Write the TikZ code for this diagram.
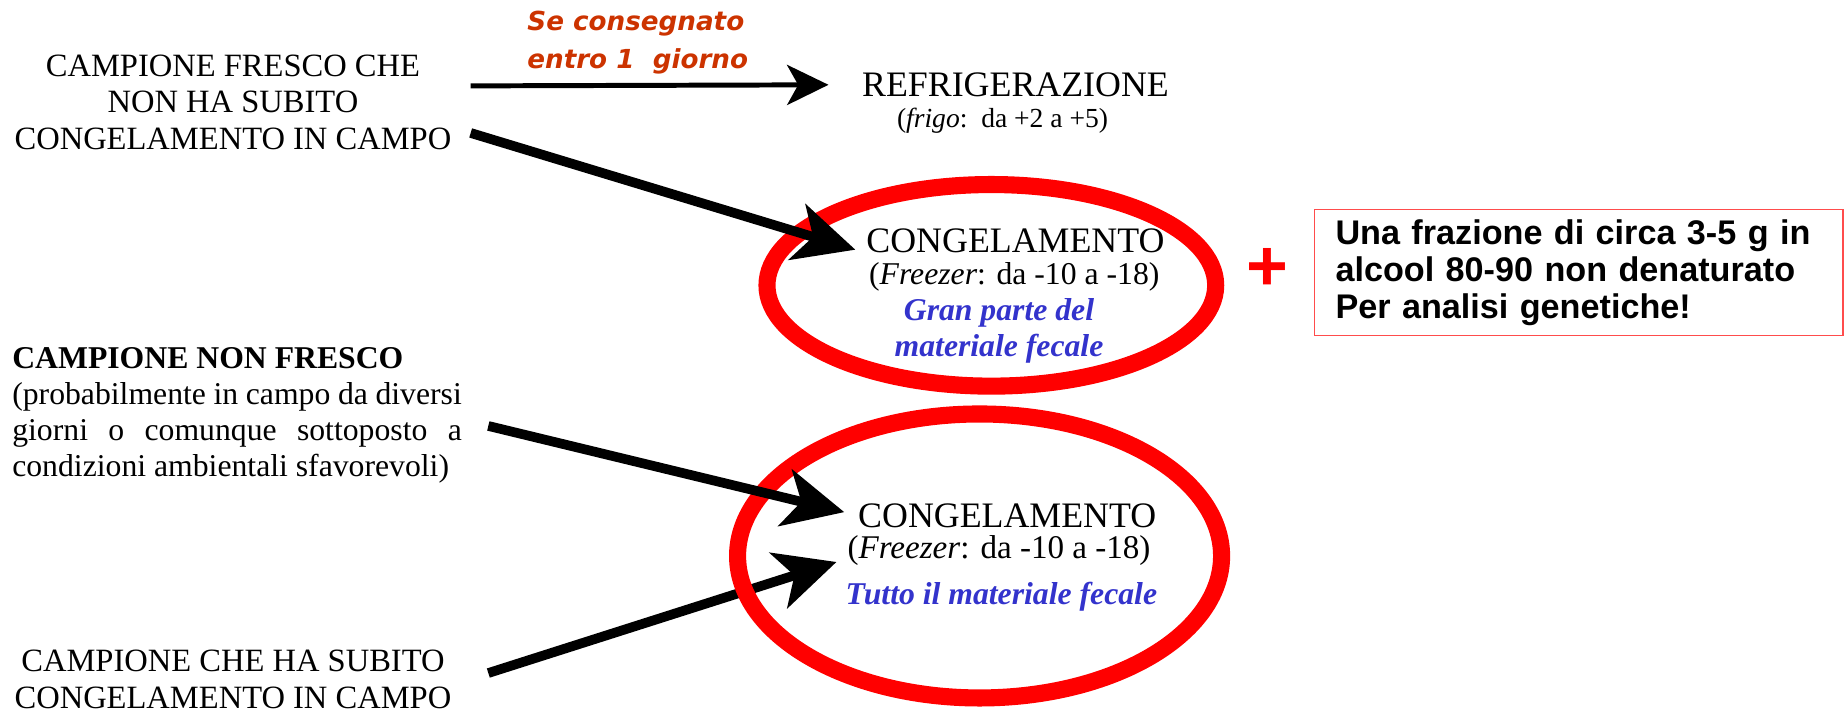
\documentclass[tikz,border=0pt]{standalone}
\usepackage{fontspec}
\setmainfont{Liberation Serif}
\setsansfont{Liberation Sans}
\newfontfamily\tagfont{DejaVu Sans}
\usetikzlibrary{positioning,arrows.meta,shapes.geometric,calc}
\definecolor{RingRed}{HTML}{FF0000}
\definecolor{NoteBlue}{HTML}{3333CC}
\definecolor{TagOrange}{HTML}{CC3300}

\begin{document}
\begin{tikzpicture}[x=0.015cm, y=-0.015cm,
    lbl/.style={inner sep=0pt, align=center},
    capsblock/.style={lbl, font=\fontsize{11.8}{13.4}\selectfont},
    headtxt/.style={lbl, font=\fontsize{13}{15}\selectfont},
    temptxt/.style={lbl, font=\fontsize{11.5}{13}\selectfont},
    bluenote/.style={lbl, text=NoteBlue, font=\bfseries\itshape\fontsize{11.5}{13.2}\selectfont},
    ring/.style={ellipse, draw=RingRed, line width=6.2pt, inner sep=0pt},
    thickarr/.style={-{Stealth[length=22pt,width=21pt,inset=6pt]}, line width=3.5pt},
    thinarr/.style={-{Stealth[length=15pt,width=14.5pt,inset=4pt]}, line width=1.8pt},
    notebox/.style={draw=RingRed!70, line width=0.6pt, align=left,
      minimum width=6.735cm, minimum height=1.605cm, text width=6.195cm,
      inner xsep=0.27cm, inner ysep=0pt,
      font=\sffamily\bfseries\fontsize{12.4}{13.4}\selectfont}
  ]
  \useasboundingbox (0,0) rectangle (1568,607);

  % left column
  \node[capsblock] (fresh) at (198,87) {CAMPIONE FRESCO CHE\\NON HA SUBITO\\CONGELAMENTO IN CAMPO};
  \node[lbl, align=justify, text width=5.73cm, anchor=west,
    font=\fontsize{11.5}{13.1}\selectfont] (stale) at (10,353)
    {\textbf{CAMPIONE NON FRESCO}\\(probabilmente in campo da diversi\linebreak
     giorni o comunque sottoposto a\linebreak condizioni ambientali sfavorevoli)};
  \node[capsblock] (frozen) at (198,577) {CAMPIONE CHE HA SUBITO\\CONGELAMENTO IN CAMPO};

  % middle column
  \node[lbl, align=left, text=TagOrange,
    font=\tagfont\bfseries\itshape\fontsize{9.5}{13.7}\selectfont] (tag) at (542,36)
    {Se consegnato\\entro 1\ \ giorno};
  \node[headtxt] (refrig) at (863,72) {REFRIGERAZIONE};
  \node[lbl, font=\fontsize{10}{12}\selectfont] (frigo) at (852,103) {(\textit{frigo}:\ \ da +2 a +5)};

  \node[headtxt] (cong1) at (863,205) {CONGELAMENTO};
  \node[temptxt] (frz1) at (862,235) {(\textit{Freezer}: da -10 a -18)};
  \node[bluenote] (gran) at (849,281) {Gran parte del\\materiale fecale};

  \node[headtxt] (cong2) at (856,438) {CONGELAMENTO};
  \node[temptxt, font=\fontsize{12}{14}\selectfont] (frz2) at (849,468) {(\textit{Freezer}: da -10 a -18)};
  \node[bluenote] (tutto) at (851,507) {Tutto il materiale fecale};

  % arrows
  \coordinate (hs) at (400,73);
  \coordinate (t1) at (400,113);
  \coordinate (t2) at (415,362);
  \coordinate (t3) at (415,572);
  \draw[thickarr, shorten >=4pt] (t3) -- (frz2.base west);

  \node[ring, minimum width=5.72cm, minimum height=2.57cm] (ring1) at (842.5,242.5) {};
  \node[ring, minimum width=6.17cm, minimum height=3.62cm] (ring2) at (832.5,472.5) {};

  \draw[thinarr, shorten >=12pt] (hs) -- (refrig.west);
  \draw[thickarr, shorten >=4pt] (t1) -- (cong1.base west);
  \draw[thickarr, shorten >=5pt] (t2) -- (cong2.west);

  % right side
  \node[text=RingRed, inner sep=0pt, font=\sffamily\bfseries\fontsize{26}{26}\selectfont] (plus) at (1077,229) {+};
  \node[notebox] (extra) at (1341.5,231.5)
    {Una frazione di circa 3-5 g in\\alcool 80-90 non denaturato\\Per analisi genetiche!};
\end{tikzpicture}
\end{document}
